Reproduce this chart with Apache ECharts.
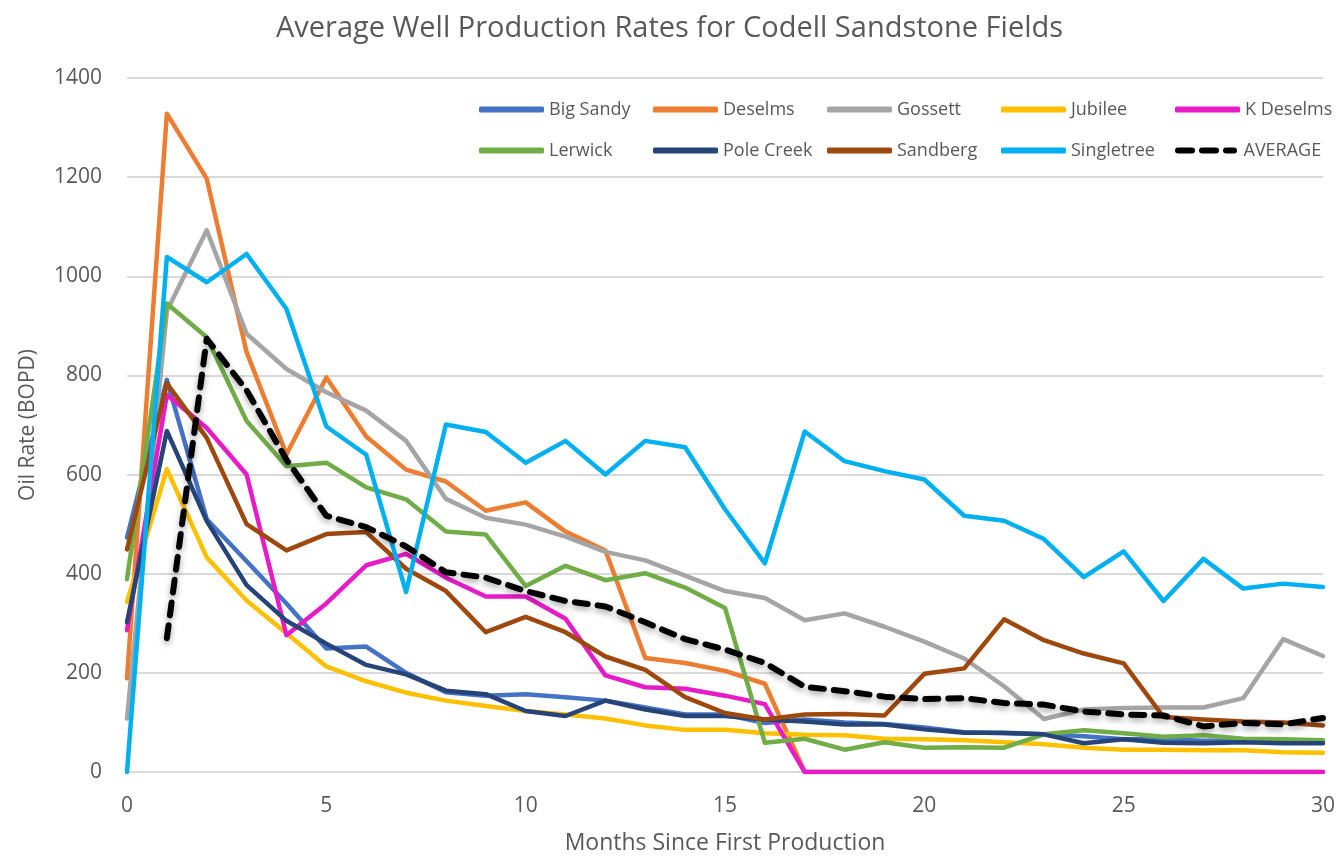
<!DOCTYPE html>
<html>
<head>
<meta charset="utf-8">
<script src="https://cdn.jsdelivr.net/npm/echarts@6/dist/echarts.min.js"></script>
<style>
html,body{margin:0;padding:0;background:#fff;}
#chart{width:1339px;height:860px;}
</style>
</head>
<body>
<div id="chart"></div>
<script>
const months = [0,1,2,3,4,5,6,7,8,9,10,11,12,13,14,15,16,17,18,19,20,21,22,23,24,25,26,27,28,29,30];
const bigSandy  = [473,791,510,425,340,249,253,200,161,154,157,151,144,130,116,116,99,106,100,97,90,80,78,76,72,66,66,63,63,62,62];
const deselms   = [189,1328,1197,847,641,796,677,610,586,527,544,485,447,230,220,204,178,0,0,0,0,0,0,0,0,0,0,0,0,0,0];
const gossett   = [108,930,1093,884,813,766,729,668,551,513,499,475,444,427,396,365,351,306,320,293,263,229,173,107,126,129,130,130,149,268,234];
const jubilee   = [343,611,433,346,280,213,183,160,144,133,123,116,108,94,85,85,78,75,74,67,66,64,60,56,49,45,45,44,44,40,39];
const kDeselms  = [286,761,694,600,276,340,417,440,392,354,354,309,195,171,168,154,137,0,0,0,0,0,0,0,0,0,0,0,0,0,0];
const lerwick   = [389,945,877,708,617,624,574,550,485,479,375,416,387,401,372,331,59,67,45,60,49,50,49,76,84,78,71,74,67,66,64];
const poleCreek = [302,688,506,377,305,259,216,197,164,157,123,113,144,126,113,113,106,102,96,96,86,79,79,76,58,66,59,58,60,58,58];
const sandberg  = [449,784,674,500,447,480,484,410,365,282,313,282,233,206,151,119,106,116,117,114,198,209,308,266,239,219,111,106,102,100,94];
const singletree= [0,1039,988,1045,934,697,640,363,701,686,624,668,600,668,655,530,421,687,627,607,590,517,507,470,393,445,345,430,370,380,373];
const average   = [null,270,874,770,630,517,494,455,403,392,365,345,334,302,268,247,220,172,163,152,147,149,139,136,122,116,114,92,99,96,109];

const seriesNames = ['Big Sandy','Deselms','Gossett','Jubilee','K Deselms','Lerwick','Pole Creek','Sandberg','Singletree','AVERAGE'];
const seriesData  = [bigSandy,deselms,gossett,jubilee,kDeselms,lerwick,poleCreek,sandberg,singletree,average];
const colors = ['#4472C4','#ED7D31','#A5A5A5','#FFC000','#E81BC9','#70AD47','#264478','#9E480E','#00B0F0','#000000'];

const textColor = '#595959';
const font = 'Open Sans';

const series = seriesNames.map((name, i) => {
  const pts = months.map((m, j) => [m, seriesData[i][j]]).filter(p => p[1] !== null);
  const isAvg = name === 'AVERAGE';
  return {
    name: name,
    type: 'line',
    data: pts,
    symbol: 'none',
    showSymbol: false,
    color: colors[i],
    z: 2 + i,
    lineStyle: isAvg ? {
      width: 6, color: colors[i], type: [13, 10], cap: 'round', join: 'round',
      shadowColor: 'rgba(0,0,0,0.35)', shadowBlur: 6, shadowOffsetY: 3
    } : { width: 4.5, color: colors[i], cap: 'round', join: 'round' },
    animation: false
  };
});

const dashIcon = 'path://M3,0h14a3,3 0 0 1 0,6h-14a3,3 0 0 1 0,-6z M27,0h14a3,3 0 0 1 0,6h-14a3,3 0 0 1 0,-6z M51,0h8a3,3 0 0 1 0,6h-8a3,3 0 0 1 0,-6z';
const legendData = seriesNames.map(n => ({
  name: n,
  icon: n === 'AVERAGE' ? dashIcon : 'roundRect'
}));

const chart = echarts.init(document.getElementById('chart'), null, {renderer: 'canvas'});
chart.setOption({
  animation: false,
  backgroundColor: '#fff',
  textStyle: { fontFamily: font },
  title: {
    text: 'Average Well Production Rates for Codell Sandstone Fields',
    left: 'center', top: 9,
    textStyle: { fontFamily: font, fontSize: 29, fontWeight: 'normal', color: textColor }
  },
  legend: {
    left: 474, top: 86, width: 880,
    itemWidth: 65, itemHeight: 6, itemGap: 4,
    textStyle: { fontFamily: font, fontSize: 18, color: textColor, width: 100, lineHeight: 37 },
    data: legendData
  },
  grid: { left: 127, right: 16, top: 78, bottom: 84, containLabel: false },
  xAxis: {
    type: 'value', min: 0, max: 30, interval: 5,
    name: 'Months Since First Production', nameLocation: 'middle', nameGap: 60,
    nameTextStyle: { fontFamily: font, fontSize: 23, color: textColor },
    axisLine: { show: true, lineStyle: { color: '#D9D9D9', width: 2 } },
    axisTick: { show: false },
    splitLine: { show: false },
    axisLabel: { fontFamily: font, fontSize: 21, color: textColor, margin: 24 }
  },
  yAxis: {
    type: 'value', min: 0, max: 1400, interval: 200,
    name: 'Oil Rate (BOPD)', nameLocation: 'middle', nameGap: 88,
    nameTextStyle: { fontFamily: font, fontSize: 21, color: textColor },
    axisLine: { show: false },
    axisTick: { show: false },
    splitLine: { show: true, lineStyle: { color: '#D9D9D9', width: 2 } },
    axisLabel: { fontFamily: font, fontSize: 21, color: textColor, margin: 25, formatter: v => String(v) }
  },
  series: series
});
</script>
</body>
</html>
